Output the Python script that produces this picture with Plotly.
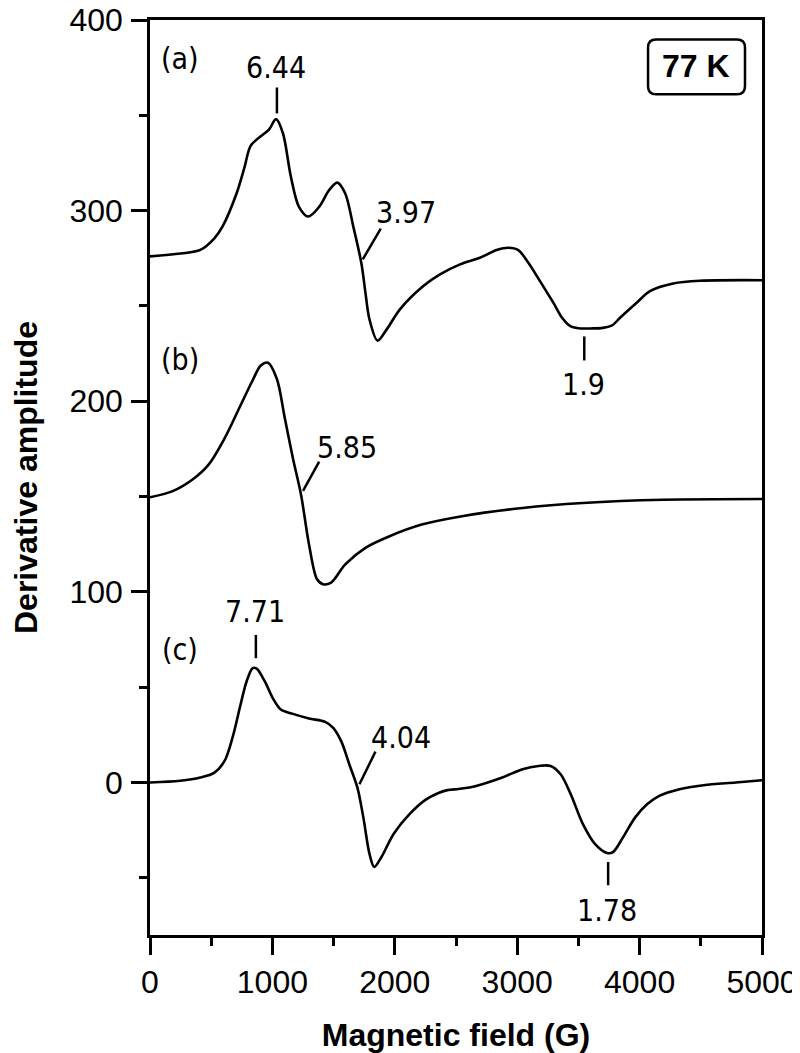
import plotly.graph_objects as go

# ---- data ----
field_a = [0, 250, 411, 526, 592, 707, 773, 822, 905, 970, 1030, 1086, 1151, 1217, 1293, 1382, 1464, 1530,
           1595, 1661, 1727, 1760, 1793, 1859, 1934, 2042, 2233, 2369, 2533, 2696, 2832, 2928,
           3009, 3091, 3186, 3295, 3370, 3431, 3500, 3600, 3700, 3780, 3840, 3976, 4085, 4275, 4493, 5000]
amp_a = [276, 277.5, 279.4, 285.5, 291.6, 309, 323, 334, 339, 342.3, 348, 340.6, 317.8, 302, 296.9, 302, 310.8, 314.7,
         309, 291.6, 272.4, 257, 243, 231.8, 237.7, 248.2, 260.4, 266.5, 271.8, 275.3, 279.3, 280.5,
         279.3, 272.6, 263, 251.7, 243.5, 239.5, 238.3, 238.2, 238.5, 240, 243.8, 251.7, 257.8, 261.8, 263.2, 263.5]

field_b = [0, 181, 345, 477, 609, 740, 839, 905, 964, 1036, 1102, 1168, 1234, 1299, 1365, 1414, 1480,
           1595, 1760, 1957, 2220, 2549, 3043, 3536, 4194, 5000]
amp_b = [149.6, 152.7, 158.8, 166.6, 180.5, 197.9, 211, 218.8, 220.2, 211.8, 191, 170, 151, 124.9, 106.6, 104, 104.9,
         114.4, 123.1, 129.2, 135.3, 139.7, 144, 146.6, 148.3, 148.7]

field_c = [0, 247, 411, 526, 609, 674, 740, 789, 839, 872, 938, 1003, 1069, 1168, 1299, 1431, 1497, 1562,
           1628, 1694, 1743, 1793, 1832, 1891, 1990, 2122, 2253, 2352, 2430, 2520, 2610, 2714, 2878, 3043, 3174,
           3273, 3355, 3437, 3536, 3635, 3734, 3783, 3865, 3964, 4063, 4161, 4326, 4523, 4786, 5000]
amp_c = [0, 0.9, 2.6, 5.2, 11.3, 23.5, 40.9, 53, 60, 59.7, 53, 44.3, 38.3, 36, 33.6, 31.8, 28.7, 21.7,
         9.6, -2.6, -18.3, -37.4, -44.3, -39.1, -27, -16.5, -9.0, -5.6, -4.0, -3.4, -2.6, -0.9, 2.6, 7, 8.7,
         8.7, 4.3, -6.1, -21.7, -32.2, -37, -36.5, -28.7, -18.3, -11.3, -7, -3.5, -1.4, 0, 1.2]

x_ticks = [0, 1000, 2000, 3000, 4000, 5000]
y_ticks = [0, 100, 200, 300, 400]

# panel letters
panel_text = ["(a)", "(b)", "(c)"]
panel_x = [249, 249, 249]
panel_y = [380, 222, 70]

# g-value labels: text, text position, tick line start/end
g_text = ["6.44", "3.97", "1.9", "5.85", "7.71", "4.04", "1.78"]
g_tx = [1029, 2092, 3545, 1612, 855, 2050, 3734]
g_ty = [375, 299, 209, 176, 89.6, 23.5, -67]
g_x0 = [1037, 1738, 3548, 1250, 865, 1711, 3743]
g_y0 = [351, 274.4, 234, 153, 65.2, -0.9, -41.7]
g_x1 = [1037, 1885, 3548, 1382, 865, 1842, 3743]
g_y1 = [364.6, 290.5, 221.4, 168.3, 77.4, 16.2, -53.9]

temp_label = "77 K"
temp_x, temp_y = 4461, 376
box_x = [4069, 4861]
box_y = [361, 389.8]

fig = go.Figure()
for fx, fy in [(field_a, amp_a), (field_b, amp_b), (field_c, amp_c)]:
    fig.add_trace(go.Scatter(x=fx, y=fy, mode="lines",
                             line=dict(color="black", width=2.6, shape="spline", smoothing=0.9),
                             showlegend=False, hoverinfo="skip"))

ann_font = dict(family="DejaVu Sans Condensed, DejaVu Sans", size=30, color="black")
for t, x, y in zip(panel_text, panel_x, panel_y):
    fig.add_annotation(x=x, y=y, xref="x", yref="y", text=t, showarrow=False, font=ann_font)
for t, x, y in zip(g_text, g_tx, g_ty):
    fig.add_annotation(x=x, y=y, xref="x", yref="y", text=t, showarrow=False, font=ann_font)
for x0, y0, x1, y1 in zip(g_x0, g_y0, g_x1, g_y1):
    fig.add_shape(type="line", x0=x0, y0=y0, x1=x1, y1=y1, xref="x", yref="y",
                  line=dict(color="black", width=2.5))

# rounded box for temperature label
rx, ry = 65, 4.3
bx0, bx1 = box_x
by0, by1 = box_y
path = (f"M {bx0+rx},{by0} L {bx1-rx},{by0} Q {bx1},{by0} {bx1},{by0+ry} "
        f"L {bx1},{by1-ry} Q {bx1},{by1} {bx1-rx},{by1} L {bx0+rx},{by1} "
        f"Q {bx0},{by1} {bx0},{by1-ry} L {bx0},{by0+ry} Q {bx0},{by0} {bx0+rx},{by0} Z")
fig.add_shape(type="path", path=path, xref="x", yref="y", line=dict(color="black", width=2.5))
fig.add_annotation(x=temp_x, y=temp_y, xref="x", yref="y", text=f"<b>{temp_label}</b>", showarrow=False,
                   font=dict(family="Liberation Sans, Arial", size=32, color="black"))

tick_font = dict(family="Liberation Sans, Arial", size=32, color="black")
title_font = dict(family="Liberation Sans, Arial", size=32, color="black")

fig.update_xaxes(range=[0, 5000], tickvals=x_ticks, ticktext=[str(v) for v in x_ticks],
                 ticks="outside", ticklen=17, tickwidth=2.5, tickcolor="black",
                 minor=dict(dtick=500, tick0=0, ticks="outside", ticklen=8, tickwidth=2.5, tickcolor="black"),
                 showline=True, linecolor="black", linewidth=2.5, mirror=True, automargin=False,
                 ticklabeloverflow="allow",
                 showgrid=False, zeroline=False, tickfont=tick_font, ticklabelstandoff=0,
                 title=dict(text="<b>Magnetic field (G)</b>", font=title_font, standoff=25))
fig.update_yaxes(range=[-80, 400], tickvals=y_ticks, ticktext=[str(v) for v in y_ticks],
                 ticks="outside", ticklen=16, tickwidth=2.5, tickcolor="black",
                 minor=dict(dtick=50, tick0=0, ticks="outside", ticklen=8, tickwidth=2.5, tickcolor="black"),
                 showline=True, linecolor="black", linewidth=2.5, mirror=True, automargin=False,
                 ticklabeloverflow="allow",
                 showgrid=False, zeroline=False, tickfont=tick_font, ticklabelstandoff=2,
                 title=dict(text="<b>Derivative amplitude</b>", font=title_font, standoff=24))

# the page body adds an 8 px offset, so the figure is sized to fit the window with it
fig.update_layout(width=792, height=1045, margin=dict(l=142, r=38, t=12, b=118),
                  paper_bgcolor="white", plot_bgcolor="white")

fig.write_html("out.html")
